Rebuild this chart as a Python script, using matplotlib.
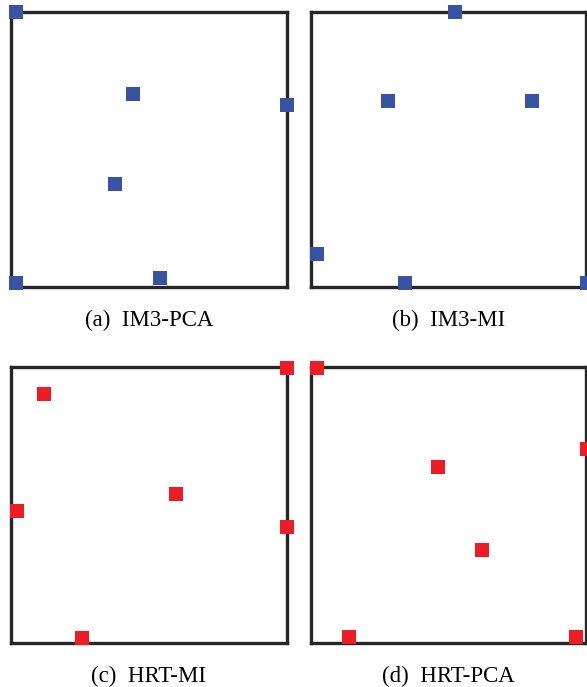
"""Four-panel scatter of selected points for IM3 and HRT metrics."""

import matplotlib

matplotlib.use("Agg")
import matplotlib.pyplot as plt

# point positions in each panel (normalised 0..1 coordinates)
im3_pca_x = [0.02, 0.441, 1.0, 0.379, 0.542, 0.02]
im3_pca_y = [1.0, 0.700, 0.660, 0.377, 0.036, 0.018]

im3_mi_x = [0.524, 0.281, 0.804, 0.019, 0.343, 1.004]
im3_mi_y = [1.0, 0.678, 0.678, 0.120, 0.018, 0.018]

hrt_mi_x = [1.0, 0.119, 0.600, 0.021, 1.0, 0.258]
hrt_mi_y = [0.997, 0.900, 0.538, 0.480, 0.419, 0.018]

hrt_pca_x = [0.019, 0.463, 1.004, 0.622, 0.139, 0.964]
hrt_pca_y = [0.997, 0.639, 0.701, 0.339, 0.021, 0.021]

tags = ["(a)", "(b)", "(c)", "(d)"]
names = ["IM3-PCA", "IM3-MI", "HRT-MI", "HRT-PCA"]

BLUE = "#3853a4"
RED = "#ee1c25"

W, H = 587, 687
fig = plt.figure(figsize=(W / 100, H / 100), dpi=100)

# axes boxes in pixels: (left, top, width, height)
boxes = [
    (10.7, 11.7, 276.3, 275.8),
    (311.3, 11.7, 274.6, 275.8),
    (10.7, 366.7, 276.3, 276.6),
    (311.3, 366.7, 274.6, 276.6),
]
panels = [
    (im3_pca_x, im3_pca_y, BLUE),
    (im3_mi_x, im3_mi_y, BLUE),
    (hrt_mi_x, hrt_mi_y, RED),
    (hrt_pca_x, hrt_pca_y, RED),
]

for (left, top, w, h), (xs, ys, color), tag, name in zip(boxes, panels, tags, names):
    ax = fig.add_axes([left / W, 1 - (top + h) / H, w / W, h / H])
    ax.plot(xs, ys, linestyle="none", marker="s", markersize=9.4,
            color=color, markeredgewidth=0, clip_on=False, zorder=5)
    ax.set_xlim(0, 1)
    ax.set_ylim(0, 1)
    ax.set_xticks([])
    ax.set_yticks([])
    for spine in ax.spines.values():
        spine.set_linewidth(2.4)
        spine.set_color("#262626")
    ax.text(0.5, -0.12, f"{tag}  {name}", transform=ax.transAxes, ha="center",
            va="center", fontsize=16.5, family="Liberation Serif")

fig.savefig("out.png", dpi=100)
